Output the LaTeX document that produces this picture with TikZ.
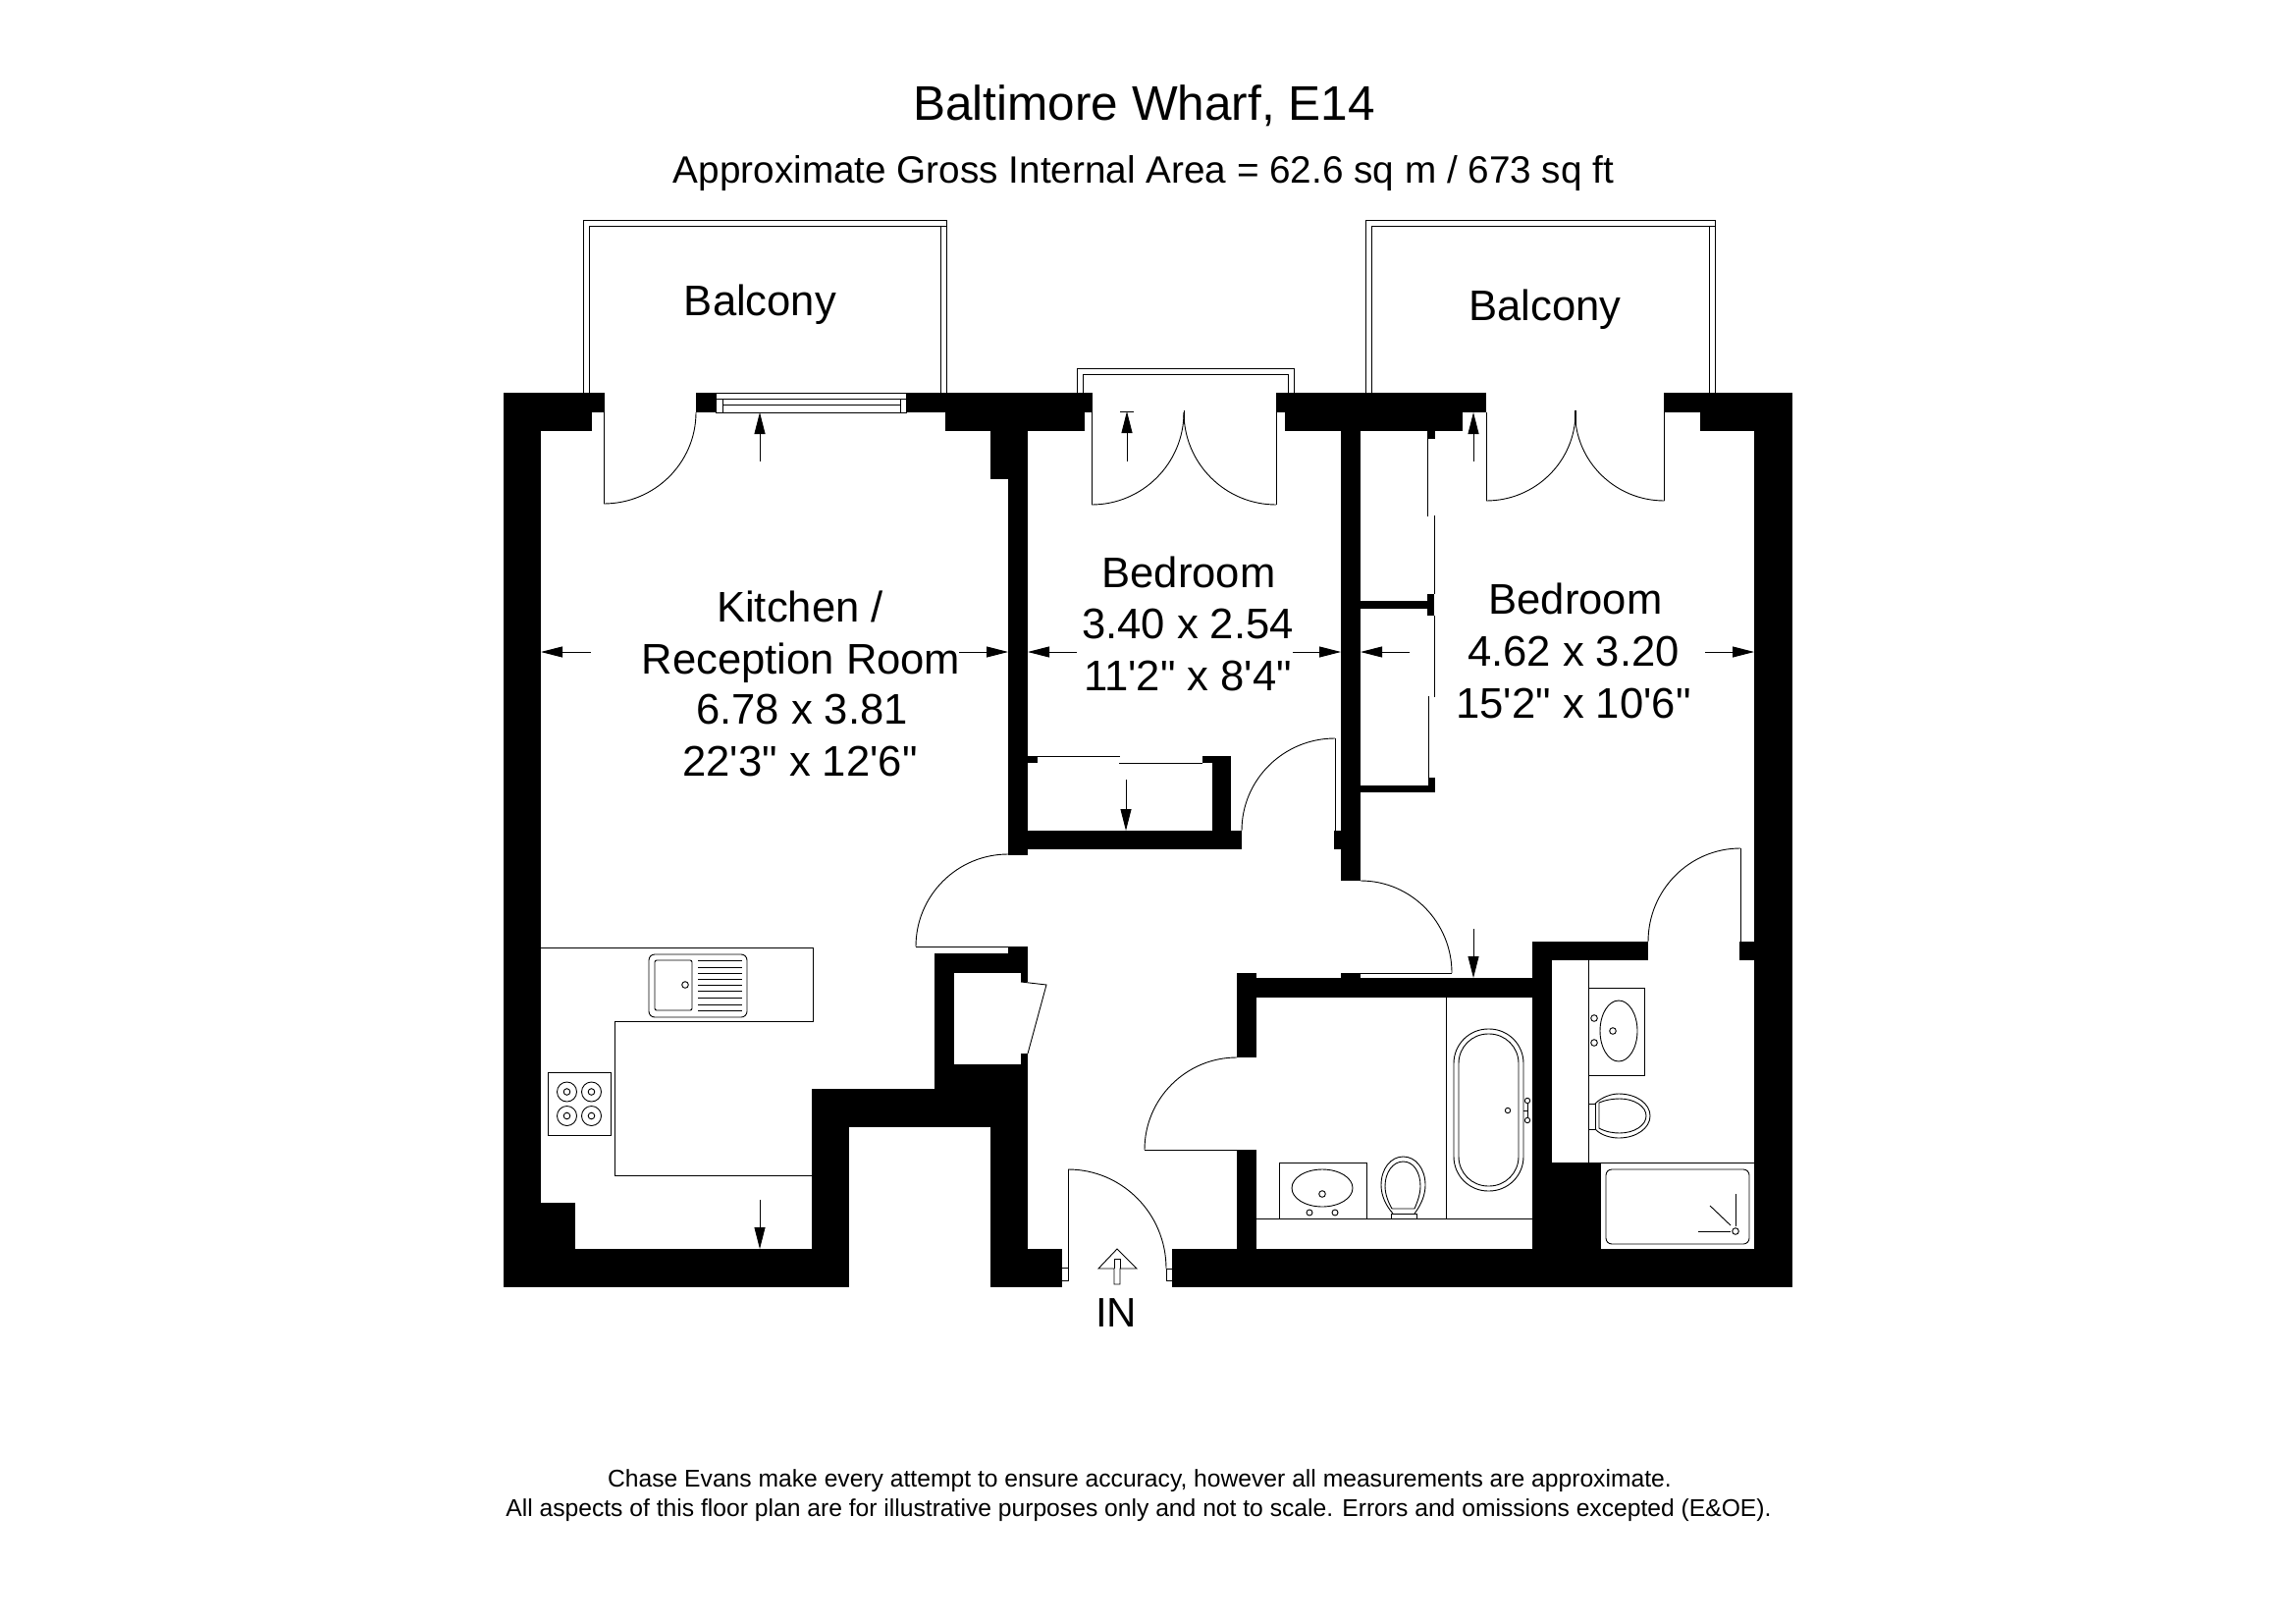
\documentclass[tikz,border=0pt]{standalone}
\usepackage{fontspec}
\usetikzlibrary{arrows.meta}
\newfontfamily\arialfont{Liberation Sans}
\newcommand{\qarc}[6]{\draw[ln] (#1+#3,#2+#4) .. controls (#1+#3+.5523*#5,#2+#4+.5523*#6) and (#1+#5+.5523*#3,#2+#6+.5523*#4) .. (#1+#5,#2+#6);}
\newcommand{\wl}[4]{\fill[black] (#1,#2) rectangle (#3,#4);}
\tikzset{
  ln/.style={draw=black,line width=0.45pt},
  dim/.style={draw=black,line width=0.45pt,-{Triangle[length=11pt,width=5.5pt]}},
  txt/.style={anchor=base,inner sep=0pt,outer sep=0pt,font=\arialfont},
}
\begin{document}
\begin{tikzpicture}[x=0.5pt,y=-0.5pt]
\useasboundingbox (0,0) rectangle (2339,1653);
\fill[white] (0,0) rectangle (2339,1653);
% balconies
\draw[ln] (594,400) -- (594,224) -- (964,224) -- (964,400);
\draw[ln] (600,400) -- (600,230) -- (964,230);
\draw[ln] (958,230) -- (958,400);
\draw[ln] (1097,400) -- (1097,375) -- (1318,375) -- (1318,400);
\draw[ln] (1103,400) -- (1103,381) -- (1312,381) -- (1312,400);
\draw[ln] (1391,400) -- (1391,224) -- (1747,224) -- (1747,400);
\draw[ln] (1397,400) -- (1397,230) -- (1747,230);
\draw[ln] (1741,230) -- (1741,400);
% walls
\wl{513}{400}{616}{420}\wl{513}{420}{603}{439}\wl{513}{439}{551}{1311}
\wl{551}{1225}{586}{1272}\wl{513}{1272}{865}{1311}\wl{827}{1109}{865}{1272}
\wl{827}{1109}{1047}{1148}\wl{952}{971}{972}{1109}\wl{952}{971}{1047}{991}
\wl{1027}{964}{1047}{971}\wl{1040}{991}{1047}{1000}\wl{1040}{1073}{1047}{1109}
\wl{972}{1084}{1047}{1109}\wl{1009}{1148}{1047}{1311}\wl{1009}{1272}{1082}{1311}
\wl{709}{400}{729}{420}\wl{923}{400}{1113}{420}\wl{963}{420}{1105}{439}
\wl{1009}{439}{1047}{488}\wl{1027}{488}{1047}{871}
\wl{1300}{400}{1514}{420}\wl{1309}{420}{1490}{439}\wl{1366}{439}{1386}{897}
\wl{1366}{991}{1386}{996}\wl{1359}{846}{1366}{865}\wl{1047}{846}{1265}{865}
\wl{1047}{770}{1057}{777}\wl{1225}{770}{1254}{777}\wl{1235}{777}{1254}{846}
\wl{1695}{400}{1826}{420}\wl{1732}{420}{1826}{439}\wl{1787}{439}{1826}{1311}
\wl{1772}{959}{1787}{978}
\wl{1386}{612}{1454}{620}\wl{1386}{800}{1462}{807}\wl{1454}{605}{1461}{627}
\wl{1455}{792}{1462}{807}\wl{1454}{439}{1462}{447}
\wl{1260}{991}{1280}{1077}\wl{1260}{996}{1581}{1016}\wl{1561}{959}{1581}{1272}
\wl{1561}{959}{1679}{978}\wl{1260}{1171}{1280}{1272}\wl{1194}{1272}{1826}{1311}
\wl{1561}{1184}{1631}{1272}
% window
\draw[ln] (729,400) rectangle (923,420);
\draw[ln] (729,406) -- (923,406);
\draw[ln] (736,406) rectangle (917,420);
\draw[ln] (736,412) -- (917,412);
% doors
\draw[ln] (615,420) -- (615,513);
\qarc{615}{420}{0}{93}{94}{0}
\draw[ln] (1112,420) -- (1112,514);
\qarc{1112}{420}{0}{94}{94}{0}
\draw[ln] (1300,420) -- (1300,514);
\qarc{1300}{420}{0}{94}{-94}{0}
\draw[ln] (1206.5,418) -- (1206.5,432);
\draw[ln] (1514,420) -- (1514,510);
\qarc{1514}{420}{0}{90}{91}{0}
\draw[ln] (1695.5,420) -- (1695.5,510);
\qarc{1695.5}{420}{0}{90}{-91}{0}
\draw[line width=1pt] (1604.5,418) -- (1604.5,432);
\draw[ln] (1360,752) -- (1360,846);
\qarc{1360}{846}{0}{-94}{-95}{0}
\draw[ln] (933,964) -- (1027,964);
\qarc{1027}{964}{0}{-94}{-94}{0}
\draw[ln] (1386,991) -- (1479,991);
\qarc{1386}{991}{0}{-94}{93}{0}
\draw[ln] (1166,1171) -- (1260,1171);
\qarc{1260}{1171}{0}{-94}{-94}{0}
\draw[ln] (1773,864) -- (1773,959);
\qarc{1773}{959}{-94}{0}{0}{-95}
% entrance door
\draw[ln] (1088,1191) -- (1088,1304) -- (1082,1304);
\draw[ln] (1082,1291) -- (1088,1291);
\qarc{1088}{1292}{0}{-101}{100}{0}
\draw[ln] (1188,1292) -- (1188,1304) -- (1194,1304);
\draw[ln] (1188,1292) -- (1194,1292);
% cupboard door and sliding doors
\draw[ln] (1040,1000) -- (1066,1003) -- (1047,1073);
\draw[ln] (1057,770.5) -- (1141,770.5);
\draw[ln] (1140,777) -- (1225,777);
\draw[ln] (1454.5,447) -- (1454.5,526);
\draw[ln] (1461,525) -- (1461,605);
\draw[ln] (1461,627) -- (1461,710);
\draw[ln] (1455,709) -- (1455,792);
% dimension arrows
\draw[dim] (774,470) -- (774,420);
\draw[dim] (602,664) -- (551,664);
\draw[dim] (977,664) -- (1027,664);
\draw[dim] (1097,664) -- (1047,664);
\draw[dim] (1317,664) -- (1366,664);
\draw[dim] (1436,664) -- (1386,664);
\draw[dim] (1737,664) -- (1787,664);
\draw[dim] (1148,470) -- (1148,419);
\draw[ln] (1141,419) -- (1155,419);
\draw[dim] (1501,470) -- (1501,420);
\draw[dim] (1147,794) -- (1147,846);
\draw[dim] (1501,946) -- (1501,996);
\draw[dim] (774,1222) -- (774,1272);
% kitchen units
\draw[ln] (551,965) -- (828,965) -- (828,1040) -- (626,1040) -- (626,1197) -- (827,1197);
\draw[ln,rounded corners=3pt] (661,972) rectangle (761,1036);
\draw[ln,rounded corners=1pt] (667,978) rectangle (705,1029);
\draw[ln] (698,1003) circle (3.3);
\foreach \y in {978.3,985,991.3,997.3,1003.3,1009.3,1016,1023,1029.3}
  \draw[ln] (711,\y) -- (756,\y);
\draw[ln] (558,1092) rectangle (622,1156);
\foreach \cx in {577.5,602.5} \foreach \cy in {1112,1136.5} {
  \draw[ln] (\cx,\cy) circle (10);
  \draw[ln] (\cx,\cy) circle (3.3);
}
% bathroom
\draw[ln] (1280,1241) -- (1561,1241);
\draw[ln] (1473,1016) -- (1473,1241);
\draw[ln] (1303,1241) -- (1303,1184) -- (1392,1184) -- (1392,1241);
\draw[ln] (1347,1210) ellipse (31 and 19);
\draw[ln] (1347,1216) circle (3.3);
\draw[ln] (1334,1235) circle (3);
\draw[ln] (1360,1235) circle (3);
\draw[ln,rounded corners=17.5pt] (1481,1048) rectangle (1552,1213);
\draw[ln,rounded corners=15pt] (1486,1053) rectangle (1547,1208);
\draw[ln] (1536,1131) circle (2.7);
\draw[ln] (1556,1121) circle (2.7);
\draw[ln] (1556,1141) circle (2.7);
\draw[ln] (1556,1124) -- (1556,1138);
\draw[ln] (1552,1131) -- (1556,1131);
\draw[ln] (1417,1241) -- (1417,1236) -- (1443,1236) -- (1443,1241);
\draw[ln] (1419,1236) .. controls (1412,1228) and (1407,1218) .. (1407,1207) .. controls (1407,1190) and (1417,1178) .. (1429.5,1178) .. controls (1442,1178) and (1452,1190) .. (1452,1207) .. controls (1452,1218) and (1447,1228) .. (1441,1236);
\draw[ln] (1418,1231) .. controls (1414,1224) and (1411,1216) .. (1411,1208) .. controls (1411,1194) and (1419,1183) .. (1429.5,1183) .. controls (1440,1183) and (1447,1194) .. (1447,1208) .. controls (1447,1216) and (1444,1224) .. (1441,1231) -- cycle;
% ensuite
\draw[ln] (1581,1184) -- (1787,1184);
\draw[ln] (1618,978) -- (1618,1184);
\draw[ln] (1618,1006) -- (1675,1006) -- (1675,1095) -- (1618,1095);
\draw[ln] (1649,1050) ellipse (19 and 31);
\draw[ln] (1643,1050) circle (3.3);
\draw[ln] (1624,1037) circle (3.3);
\draw[ln] (1624,1062) circle (3.3);
\draw[ln] (1618,1124) -- (1625,1124) -- (1625,1150) -- (1618,1150);
\draw[ln] (1625,1124) .. controls (1632,1117) and (1642,1114) .. (1649,1114) .. controls (1667,1114) and (1681,1124) .. (1681,1136.5) .. controls (1681,1149) and (1667,1159) .. (1649,1159) .. controls (1642,1159) and (1632,1157) .. (1625,1150);
\draw[ln] (1629,1123) .. controls (1636,1120) and (1644,1119) .. (1650,1119) .. controls (1665,1119) and (1677,1127) .. (1677,1136.5) .. controls (1677,1146) and (1665,1154) .. (1650,1154) .. controls (1644,1154) and (1636,1153) .. (1629,1149) -- cycle;
\draw[ln,rounded corners=3pt] (1636,1191) rectangle (1782,1267);
\draw[ln] (1768,1254) circle (3.3);
\draw[ln] (1768,1216) -- (1768,1249);
\draw[ln] (1742,1228) -- (1763,1248);
\draw[ln] (1730,1254) -- (1763,1254);
% entrance arrow
\draw[ln] (1138,1272) -- (1119,1292) -- (1135,1292) -- (1135,1308) -- (1141,1308) -- (1141,1292) -- (1158,1292) -- cycle;
\draw[ln] (1135,1282) -- (1141,1282);
\draw[ln] (1135,1282) -- (1135,1292);
\draw[ln] (1141,1282) -- (1141,1292);
% texts
\node[txt,font=\arialfont\fontsize{24.75pt}{28pt}\selectfont] (title) at (1165.5,123) {Baltimore Wharf, E14};
\node[txt,font=\arialfont\fontsize{19.35pt}{22pt}\selectfont] (subtitle) at (1165,187) {Approximate Gross Internal Area = 62.6 sq m / 673 sq ft};
\tikzset{room/.style={txt,font=\arialfont\fontsize{21.8pt}{24pt}\selectfont}}
\node[room] (balconya) at (774.5,321.5) {Balcony};
\node[room] (balconyb) at (1574,327) {Balcony};
\node[room] (kitchena) at (815,633) {Kitchen /};
\node[room] (kitchenb) at (816,686) {Reception Room};
\node[room] (kitchenc) at (817,737.5) {6.78 x 3.81};
\node[room] (kitchend) at (815,790.5) {22'3" x 12'6"};
\node[room] (beda) at (1211,598) {Bedroom};
\node[room] (bedb) at (1210,650) {3.40 x 2.54};
\node[room] (bedc) at (1210,703) {11'2" x 8'4"};
\node[room] (bedd) at (1605,625) {Bedroom};
\node[room] (bede) at (1603,678) {4.62 x 3.20};
\node[room] (bedf) at (1603,731) {15'2" x 10'6"};
\node[txt,font=\arialfont\fontsize{21pt}{24pt}\selectfont] (inlabel) at (1137,1351) {IN};
\node[txt,font=\arialfont\fontsize{12.33pt}{14pt}\selectfont] (foota) at (1161,1514) {Chase Evans make every attempt to ensure accuracy, however all measurements are approximate.};
\node[txt,font=\arialfont\fontsize{12.33pt}{14pt}\selectfont] (footb) at (1160,1544) {All aspects of this floor plan are for illustrative purposes only and not to scale. Errors and omissions excepted (E\&OE).};
\end{tikzpicture}
\end{document}
